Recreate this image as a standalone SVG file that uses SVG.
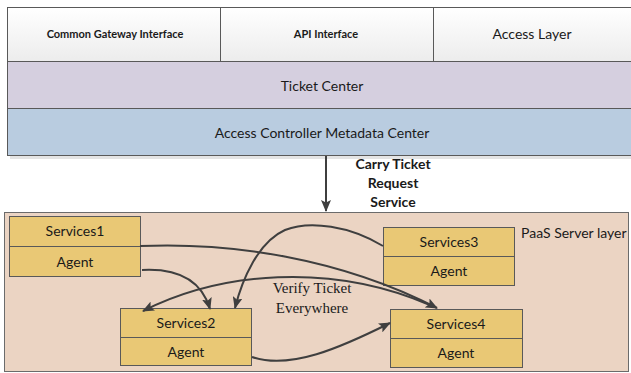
<svg xmlns="http://www.w3.org/2000/svg" width="631" height="373" viewBox="0 0 631 373">
  <defs>
    <linearGradient id="cellFill" x1="0" y1="0" x2="0" y2="1">
      <stop offset="0" stop-color="#ffffff"/>
      <stop offset="1" stop-color="#ececec"/>
    </linearGradient>
    <marker id="arrow" viewBox="0 0 12 10" refX="11" refY="5" markerWidth="12" markerHeight="10" markerUnits="userSpaceOnUse" orient="auto">
      <path d="M0,0 L12,5 L0,10 L2.5,5 Z" fill="#3f3f3f"/>
    </marker>
  </defs>
  <style>
    .cell { fill: url(#cellFill); stroke: #595959; stroke-width: 1; }
    .ticket { fill: #d5cfdf; stroke: #595959; stroke-width: 1; }
    .acmc { fill: #b9cce0; stroke: #595959; stroke-width: 1; }
    .paas { fill: #ebd4c3; stroke: #6b6b6b; stroke-width: 1; }
    .svc { fill: #e9c875; stroke: #595959; stroke-width: 1; }
    .label { font-family: Lato, "Open Sans", "Liberation Sans", sans-serif; fill: #1a1a1a; text-anchor: middle; }
    .small-bold { font-size: 11px; font-weight: bold; }
    .mid { font-size: 14px; }
    .bold { font-weight: bold; font-size: 14px; }
    .serif { font-family: "Liberation Serif", serif; font-size: 15px; fill: #1a1a1a; text-anchor: middle; }
    .conn { fill: none; stroke: #3f3f3f; stroke-width: 2; }
  </style>

  <!-- shadow under the layered stack -->
  <rect x="10" y="156" width="630" height="3" fill="#e4e4e4"/>

  <g id="common-gateway-interface">
    <rect class="cell" x="7.5" y="7.5" width="213" height="54"/>
    <text class="label small-bold" x="115" y="38">Common Gateway Interface</text>
  </g>
  <g id="api-interface">
    <rect class="cell" x="220.5" y="7.5" width="213" height="54"/>
    <text class="label small-bold" x="326" y="38">API Interface</text>
  </g>
  <g id="access-layer">
    <rect class="cell" x="433.5" y="7.5" width="210" height="54"/>
    <text class="label mid" x="532" y="39">Access Layer</text>
  </g>
  <g id="ticket-center">
    <rect class="ticket" x="7.5" y="61.5" width="636" height="47"/>
    <text class="label mid" x="322" y="91">Ticket Center</text>
  </g>
  <g id="access-controller-metadata-center">
    <rect class="acmc" x="7.5" y="108.5" width="636" height="47"/>
    <text class="label mid" x="322" y="138">Access Controller Metadata Center</text>
  </g>

  <g id="paas-server-layer">
    <rect class="paas" x="4.5" y="212.5" width="624" height="159"/>
    <text class="label mid" x="521" y="238" style="text-anchor:start">PaaS Server layer</text>
  </g>

  <g id="services1">
    <rect class="svc" x="9.5" y="216.5" width="131" height="30"/>
    <rect class="svc" x="9.5" y="246.5" width="131" height="30"/>
    <text class="label mid" x="75" y="236">Services1</text>
    <text class="label mid" x="75" y="267">Agent</text>
  </g>
  <g id="services2">
    <rect class="svc" x="120.5" y="308.5" width="131" height="29"/>
    <rect class="svc" x="120.5" y="337.5" width="131" height="28"/>
    <text class="label mid" x="186" y="328">Services2</text>
    <text class="label mid" x="186" y="357">Agent</text>
  </g>
  <g id="services3">
    <rect class="svc" x="383.5" y="227.5" width="131" height="29"/>
    <rect class="svc" x="383.5" y="256.5" width="131" height="29"/>
    <text class="label mid" x="449" y="247">Services3</text>
    <text class="label mid" x="449" y="276">Agent</text>
  </g>
  <g id="services4">
    <rect class="svc" x="390.5" y="309.5" width="132" height="29"/>
    <rect class="svc" x="390.5" y="338.5" width="132" height="29"/>
    <text class="label mid" x="456" y="329">Services4</text>
    <text class="label mid" x="456" y="358">Agent</text>
  </g>

  <g id="connectors">
    <!-- request path into the PaaS layer -->
    <path class="conn" d="M326,156 L326,211" marker-end="url(#arrow)"/>
    <!-- Services1 to Services4 -->
    <path class="conn" d="M140,246 C230,242 340,258 437,308" marker-end="url(#arrow)"/>
    <!-- Services4 back to Services2 -->
    <path class="conn" d="M430,305 C330,262 220,272 143,311" marker-end="url(#arrow)"/>
    <!-- Services1 agent to Services2 -->
    <path class="conn" d="M142,270 C180,268 202,282 210,309" marker-end="url(#arrow)"/>
    <!-- Services3 to Services2 -->
    <path class="conn" d="M383,246 C350,226 310,220 285,230 C258,242 242,280 235,308" marker-end="url(#arrow)"/>
    <!-- Services2 agent to Services4 -->
    <path class="conn" d="M252,357 C290,370 340,348 390,323" marker-end="url(#arrow)"/>
  </g>

  <g id="labels">
    <text class="label bold" x="393" y="169">Carry Ticket</text>
    <text class="label bold" x="393" y="188">Request</text>
    <text class="label bold" x="393" y="207">Service</text>
    <text class="serif" x="312" y="293">Verify Ticket</text>
    <text class="serif" x="312" y="313">Everywhere</text>
  </g>
</svg>
